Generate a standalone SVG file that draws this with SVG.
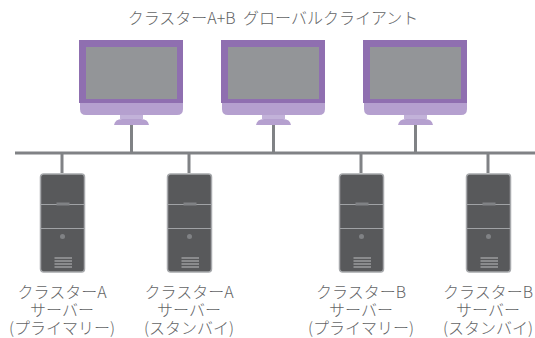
<svg xmlns="http://www.w3.org/2000/svg" width="535" height="338" viewBox="0 0 535 338">
<style>
text{font-family:"Noto Sans CJK JP","Noto Sans",sans-serif;font-size:16px;fill:#636466;text-anchor:middle;font-weight:300}
.c{stroke:#808285;stroke-width:3;fill:none}
</style>
<defs>
<g id="mon">
<path d="M1 63H104V69Q104 75 98 75H7Q1 75 1 69Z" fill="#b5a0cf"/>
<path d="M41 75H64V79H41Z" fill="#c2b2d9"/>
<path d="M35 85Q36 79 43 79H62Q69 79 70 85Z" fill="#b5a0cf"/>
<rect width="104" height="63" fill="#8f6fb0"/>
<rect x="7" y="7" width="91" height="52" fill="#939598"/>
</g>
<g id="srv">
<rect x="0.5" y="0.5" width="44" height="98" rx="3" fill="#58595b" stroke="#a7a9ac" stroke-width="1.5"/>
<path d="M1 31H44M1 55H44" stroke="#a0a2a5" stroke-width="1"/>
<rect x="16.500" y="29" width="13" height="3" fill="#808285"/>
<circle cx="22.500" cy="63" r="2.500" fill="#808285"/>
<path d="M14.500 84.500H32M14.500 87.500H32M14.500 90.500H32M14.500 93.500H32" stroke="#bcbec0" stroke-width="1"/>
</g>
</defs>
<g id="connectors">
<path class="c" d="M15 153H535"/>
<path class="c" d="M131.500 125V153M273.500 125V153M415.500 125V153M62 153V173M189 153V173M361 153V173M488 153V173"/>
</g>
<g id="title"><text x="273" y="23.500" style="word-spacing:4px">クラスターA+B グローバルクライアント</text></g>
<g id="client-1"><use href="#mon" x="79" y="40"/></g>
<g id="client-2"><use href="#mon" x="221" y="40"/></g>
<g id="client-3"><use href="#mon" x="363" y="40"/></g>
<g id="server-a-primary"><use href="#srv" x="40" y="173.500"/>
<text x="62" y="298">クラスターA</text><text x="62" y="316">サーバー</text><text x="62" y="334">(プライマリー)</text></g>
<g id="server-a-standby"><use href="#srv" x="167" y="173.500"/>
<text x="189" y="298">クラスターA</text><text x="189" y="316">サーバー</text><text x="189" y="334">(スタンバイ)</text></g>
<g id="server-b-primary"><use href="#srv" x="339" y="173.500"/>
<text x="361" y="298">クラスターB</text><text x="361" y="316">サーバー</text><text x="361" y="334">(プライマリー)</text></g>
<g id="server-b-standby"><use href="#srv" x="466" y="173.500"/>
<text x="488" y="298">クラスターB</text><text x="488" y="316">サーバー</text><text x="488" y="334">(スタンバイ)</text></g>
</svg>
